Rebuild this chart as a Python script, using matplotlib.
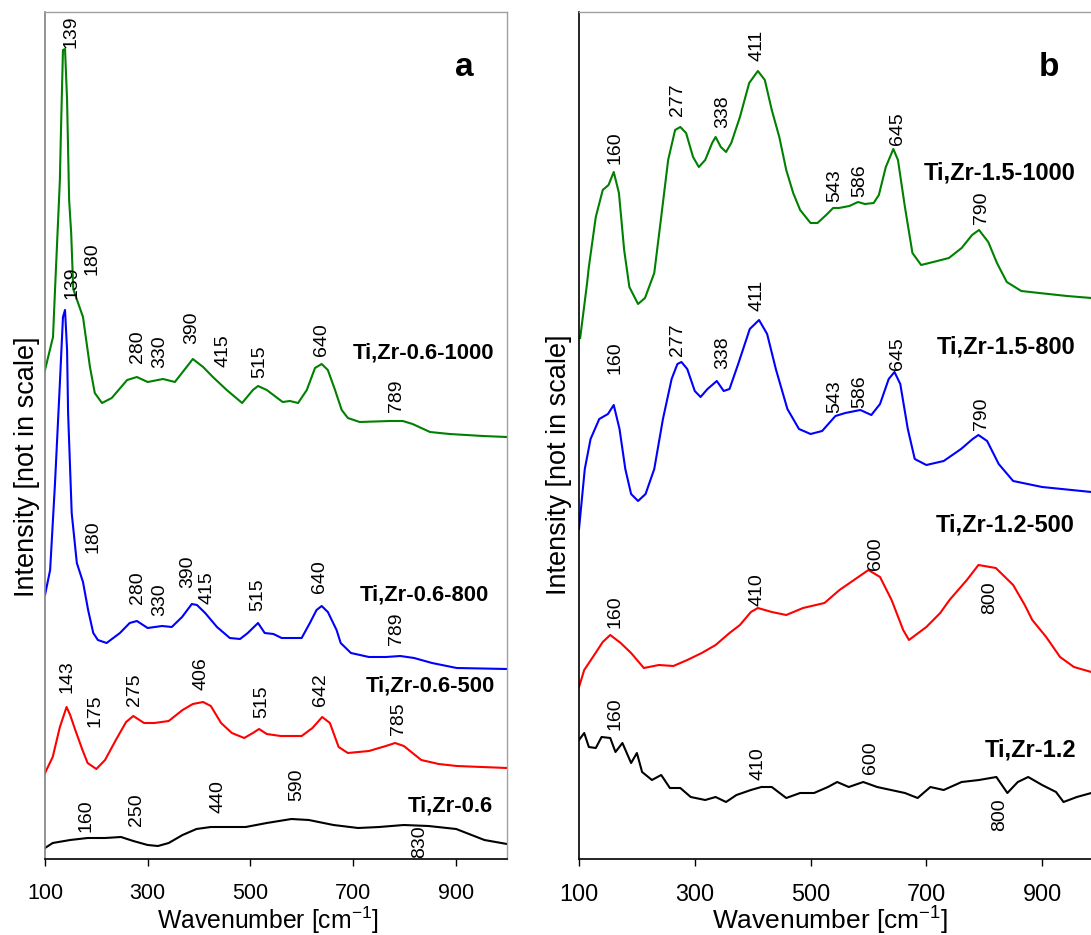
import matplotlib
matplotlib.use("Agg")
import matplotlib.pyplot as plt
from matplotlib import font_manager

# ---------------- data (intensity in arbitrary, offset units) ----------------
# Panel a
a_green_w = [100, 115.6, 119.5, 129, 131, 135, 139, 143, 147, 151, 155, 174, 187.6, 197, 211, 230, 260, 279, 300, 330, 353, 388, 408, 427, 454, 484, 505, 515, 532, 563, 577, 593, 610, 626, 639, 651, 665, 678, 690, 713, 772, 797, 816, 850, 888, 953, 1000]
a_green_i = [489, 522, 569, 679, 726, 809, 810, 759, 659, 626, 570, 542, 492, 466, 456, 461, 479, 482, 477, 480, 477, 500, 492, 482, 469, 456, 469, 473, 469, 457, 458, 456, 469, 491, 495, 489, 469, 449, 441, 437, 438, 438, 435, 427, 425, 423, 422]

a_blue_w = [100, 110, 119.5, 129, 135, 139, 143, 145, 152, 162, 174, 184, 194, 203, 220, 246, 265, 279, 300, 328, 347, 367, 386, 396, 412, 435, 460, 480, 495, 515, 528, 545, 561, 577, 600, 616, 629, 639, 651, 668, 676, 696, 731, 764, 792, 819, 854, 902, 1000]
a_blue_i = [264, 289, 376, 476, 542, 549, 509, 446, 346, 296, 277, 249, 226, 219, 216, 226, 236, 238, 231, 233, 232, 242, 255, 254, 246, 232, 221, 220, 226, 236, 226, 225, 221, 221, 221, 236, 249, 253, 247, 229, 216, 206, 202, 202, 203, 201, 196, 191, 190]

a_red_w = [100, 115, 129, 142, 149, 159, 173, 183, 200, 217, 238, 258, 272, 293, 313, 341, 368, 388, 408, 423, 443, 464, 488, 505, 517, 532, 559, 600, 621, 640, 655, 672, 690, 731, 764, 782, 799, 833, 867, 902, 1000]
a_red_i = [86, 102, 132, 152, 144, 129, 109, 96, 90, 99, 119, 137, 143, 136, 136, 138, 149, 155, 157, 153, 136, 126, 121, 126, 130, 125, 123, 123, 131, 142, 136, 112, 106, 108, 113, 116, 113, 99, 95, 93, 91]

a_black_w = [100, 115, 149, 183, 217, 248, 272, 300, 320, 341, 368, 395, 423, 457, 491, 532, 580, 614, 662, 710, 751, 799, 847, 901, 956, 1000]
a_black_i = [11, 16, 19, 21, 21, 22, 18, 14, 13, 16, 24, 30, 32, 32, 32, 36, 40, 39, 34, 31, 32, 34, 33, 30, 19, 15]

# Panel b
b_green_w = [102, 114, 117, 129, 141, 151, 160, 169, 178, 187, 202, 214, 230, 242, 254, 266, 275, 285, 297, 307, 318, 330, 336, 345, 354, 363, 378, 394, 409, 421, 433, 446, 458, 470, 482, 500, 512, 527, 539, 549, 567, 582, 594, 609, 618, 630, 643, 651, 663, 676, 691, 712, 739, 761, 779, 791, 807, 822, 839, 864, 895, 943, 985]
b_green_i = [521, 576, 592, 642, 669, 674, 687, 666, 609, 572, 555, 561, 586, 642, 699, 729, 732, 726, 702, 692, 699, 716, 722, 712, 707, 716, 742, 776, 788, 779, 749, 722, 689, 666, 649, 636, 636, 644, 651, 651, 653, 657, 655, 656, 664, 692, 710, 699, 652, 606, 594, 597, 601, 611, 624, 629, 617, 596, 577, 568, 566, 563, 561]

b_blue_w = [100, 110, 120, 135, 150, 160, 170, 180, 190, 202, 215, 230, 245, 260, 270, 277, 287, 300, 310, 322, 338, 350, 360, 375, 395, 411, 425, 440, 460, 480, 500, 520, 543, 560, 586, 605, 620, 635, 645, 655, 668, 680, 700, 730, 760, 780, 790, 805, 825, 850, 900, 985]
b_blue_i = [330, 390, 420, 440, 445, 454, 430, 390, 365, 358, 365, 390, 440, 480, 495, 497, 490, 468, 462, 470, 478, 468, 470, 495, 530, 539, 525, 490, 450, 430, 425, 428, 443, 446, 449, 444, 455, 480, 487, 475, 430, 400, 394, 398, 410, 420, 424, 418, 395, 378, 372, 367]

b_red_w = [100, 109, 124, 141, 154, 172, 190, 212, 238, 263, 287, 312, 336, 360, 378, 397, 409, 433, 458, 487, 524, 550, 580, 600, 620, 640, 660, 670, 700, 724, 740, 770, 790, 820, 850, 870, 883, 907, 931, 955, 985]
b_red_i = [172, 189, 202, 217, 224, 216, 206, 191, 194, 193, 199, 206, 214, 226, 234, 247, 251, 247, 244, 251, 256, 269, 281, 289, 282, 259, 229, 219, 232, 246, 259, 279, 294, 291, 274, 254, 239, 222, 202, 192, 187]

b_black_w = [100, 109, 117, 129, 139, 154, 163, 175, 190, 200, 209, 226, 242, 257, 275, 293, 318, 336, 354, 372, 397, 415, 433, 458, 482, 506, 530, 546, 566, 591, 615, 639, 663, 685, 707, 730, 761, 791, 821, 840, 858, 876, 900, 924, 937, 960, 985]
b_black_i = [119, 126, 112, 111, 122, 121, 107, 116, 96, 106, 87, 79, 84, 71, 71, 62, 59, 62, 57, 64, 69, 72, 72, 61, 66, 66, 72, 77, 72, 77, 72, 69, 66, 61, 72, 69, 77, 79, 82, 66, 77, 82, 74, 67, 57, 62, 66]

# Peak labels: (text, x, y) in data coordinates
a_green_peaks = [("139", 150.6, 827), ("180", 191.5, 600), ("280", 281, 512), ("330", 324, 507), ("390", 386, 531), ("415", 446.6, 508), ("515", 518.6, 497), ("640", 639, 519), ("789", 785, 463)]
a_blue_peaks = [("139", 152.6, 576), ("180", 193.5, 322), ("280", 281, 271), ("330", 324, 259), ("390", 378, 287), ("415", 415, 271), ("515", 514.7, 264), ("640", 635, 282), ("789", 785, 230)]
a_red_peaks = [("143", 142.8, 182), ("175", 197, 148), ("275", 275, 169), ("406", 403.7, 185), ("515", 522.5, 157), ("642", 637, 169), ("785", 789, 140)]
a_black_peaks = [("160", 180, 43), ("250", 279, 49), ("440", 437, 62), ("590", 590.6, 74), ("830", 830, 17)]

b_green_peaks = [("160", 163, 711), ("277", 271, 759), ("338", 348.8, 747), ("411", 407.6, 814), ("543", 542, 673), ("586", 585.5, 678), ("645", 651, 730), ("790", 796, 651)]
b_blue_peaks = [("160", 162, 501), ("277", 271, 519), ("338", 349, 506), ("411", 407.6, 564), ("543", 542, 462), ("586", 585.5, 467), ("645", 651, 505), ("790", 796, 445)]
b_red_peaks = [("160", 163, 247), ("410", 407.6, 269), ("600", 612, 305), ("800", 810, 261)]
b_black_peaks = [("160", 163, 145), ("410", 409, 95), ("600", 603, 101), ("800", 827, 44)]

a_names = ["Ti,Zr-0.6-1000", "Ti,Zr-0.6-800", "Ti,Zr-0.6-500", "Ti,Zr-0.6"]
a_name_pos = [(976, 506), (964.5, 264), (976, 173), (973, 53)]
b_names = ["Ti,Zr-1.5-1000", "Ti,Zr-1.5-800", "Ti,Zr-1.2-500", "Ti,Zr-1.2"]
b_name_pos = [(958.7, 686), (957, 512), (957, 334), (958.7, 109)]

xticks = [100, 300, 500, 700, 900]
colors = ["#008000", "#0000ff", "#ff0000", "#000000"]

# ---------------- fonts ----------------
names = {f.name for f in font_manager.fontManager.ttflist}
REG = "Liberation Sans" if "Liberation Sans" in names else "DejaVu Sans"
plt.rcParams["font.family"] = [REG, "DejaVu Sans"]
plt.rcParams["mathtext.fontset"] = "custom"
plt.rcParams["mathtext.rm"] = REG
plt.rcParams["mathtext.it"] = REG

W, H = 1091, 935
fig = plt.figure(figsize=(W / 100, H / 100), dpi=100)
ax_a = fig.add_axes([45 / W, (H - 859) / H, (507 - 45) / W, (859 - 12) / H])
ax_b = fig.add_axes([579 / W, (H - 859) / H, (1100 - 579) / W, (859 - 12) / H])


def style(ax, tick_size, left_color, xl_size):
    ax.set_xlim(100, 1000)
    ax.set_ylim(0, 847)
    ax.set_yticks([])
    ax.set_xticks(xticks)
    ax.set_xticklabels([str(t) for t in xticks], fontsize=tick_size)
    ax.tick_params(axis="x", direction="out", length=5, width=1, pad=12, colors="black")
    for s in ["top", "right"]:
        ax.spines[s].set_color("#a0a0a0")
        ax.spines[s].set_linewidth(1)
    ax.spines["left"].set_color(left_color)
    ax.spines["left"].set_linewidth(1.2)
    ax.spines["bottom"].set_color("black")
    ax.spines["bottom"].set_linewidth(1.2)
    ax.set_ylabel("Intensity [not in scale]", fontsize=19.5)
    ax.set_xlabel("Wavenumber [cm$^{\\mathregular{-1}}$]", fontsize=xl_size, va="baseline")


style(ax_a, 15.5, "#808080", 17.8)
style(ax_b, 16.8, "black", 19)
ax_a.yaxis.set_label_coords(-0.011, 0.463)
ax_b.yaxis.set_label_coords(-0.0134, 0.465)
ax_a.xaxis.set_label_coords(0.483, -0.0832)
ax_b.xaxis.set_label_coords(0.482, -0.0832)

a_series = [(a_green_w, a_green_i), (a_blue_w, a_blue_i), (a_red_w, a_red_i), (a_black_w, a_black_i)]
b_series = [(b_green_w, b_green_i), (b_blue_w, b_blue_i), (b_red_w, b_red_i), (b_black_w, b_black_i)]
a_peaks = [a_green_peaks, a_blue_peaks, a_red_peaks, a_black_peaks]
b_peaks = [b_green_peaks, b_blue_peaks, b_red_peaks, b_black_peaks]

for ax, series, peaks, snames, spos, nsize in [
        (ax_a, a_series, a_peaks, a_names, a_name_pos, 15.8),
        (ax_b, b_series, b_peaks, b_names, b_name_pos, 17)]:
    for (xs, ys), c in zip(series, colors):
        ax.plot(xs, ys, color=c, lw=1.5, solid_joinstyle="round")
    for plist in peaks:
        for t, x, y in plist:
            ax.text(x, y, t, rotation=90, ha="center", va="center", fontsize=14,
                    color="black")
    for n, (x, y) in zip(snames, spos):
        ax.text(x, y, n, ha="right", va="center", fontsize=nsize, fontweight="bold",
                color="black")

ax_a.text(917.8, 792, "a", ha="center", va="center", fontsize=24, fontweight="bold")
ax_b.text(912, 791, "b", ha="center", va="center", fontsize=24, fontweight="bold")

fig.savefig("out.png", dpi=100)
